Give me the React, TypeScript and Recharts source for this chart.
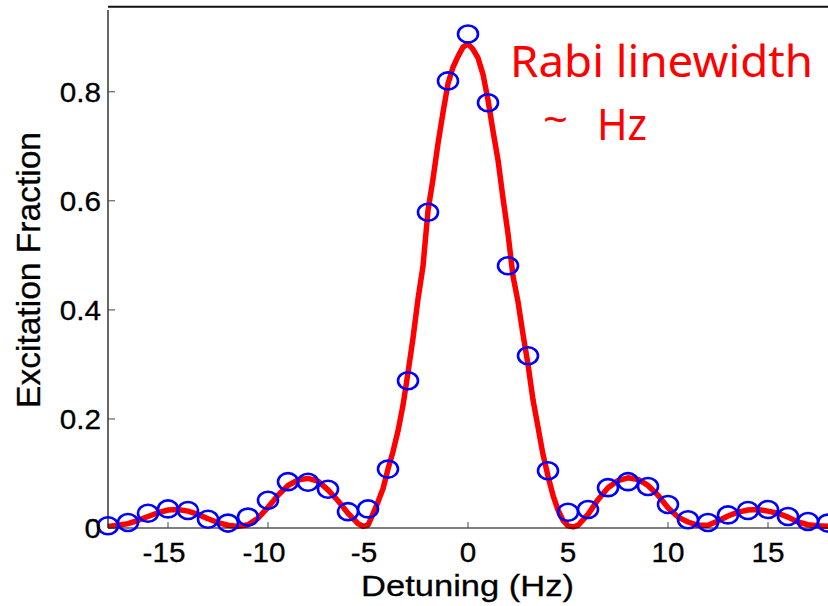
import React from "react";
import {
  ComposedChart,
  Line,
  Scatter,
  XAxis,
  YAxis,
  ReferenceLine,
  Customized,
} from "recharts";

// Measured excitation fraction at each detuning step (Hz)
const detuning = [
  -18, -17, -16, -15, -14, -13, -12, -11, -10, -9, -8, -7, -6, -5, -4, -3, -2, -1,
  0, 1, 2, 3, 4, 5, 6, 7, 8, 9, 10, 11, 12, 13, 14, 15, 16, 17, 18,
];
const excitation = [
  0.004, 0.01, 0.027, 0.035, 0.032, 0.016, 0.009, 0.02, 0.051, 0.085, 0.084, 0.071,
  0.03, 0.035, 0.108, 0.27, 0.579, 0.82, 0.906, 0.78, 0.481, 0.316, 0.105, 0.029,
  0.034, 0.074, 0.085, 0.076, 0.043, 0.015, 0.01, 0.024, 0.032, 0.034, 0.021, 0.012,
  0.009,
];

// Fitted Rabi lineshape, sampled along the detuning axis
const fitDetuning = [
  -18, -17.5, -17, -16.5, -16, -15.5, -15, -14.5, -14, -13.5, -13, -12.5, -12, -11.5,
  -11, -10.5, -10, -9.5, -9, -8.5, -8, -7.5, -7, -6.5, -6, -5.5, -5.25, -5, -4.75,
  -4.5, -4.25, -4, -3.75, -3.5, -3.25, -3, -2.75, -2.5, -2.25, -2, -1.75, -1.5, -1.25,
  -1, -0.75, -0.5, -0.25, 0, 0.25, 0.5, 0.75, 1, 1.25, 1.5, 1.75, 2, 2.25, 2.5, 2.75,
  3, 3.25, 3.5, 3.75, 4, 4.25, 4.5, 4.75, 5, 5.25, 5.5, 6, 6.5, 7, 7.5, 8, 8.5, 9, 9.5,
  10, 10.5, 11, 11.5, 12, 12.5, 13, 13.5, 14, 14.5, 15, 15.5, 16, 16.5, 17, 17.5, 18,
];
const fitExcitation = [
  0.003, 0.005, 0.008, 0.014, 0.021, 0.028, 0.033, 0.034, 0.031, 0.025, 0.017, 0.01,
  0.005, 0.003, 0.006, 0.018, 0.038, 0.06, 0.078, 0.088, 0.091, 0.086, 0.07, 0.05,
  0.027, 0.008, 0.003, 0.005, 0.026, 0.048, 0.072, 0.108, 0.14, 0.178, 0.225, 0.285,
  0.348, 0.42, 0.48, 0.582, 0.64, 0.705, 0.762, 0.815, 0.845, 0.865, 0.882, 0.888,
  0.878, 0.862, 0.832, 0.785, 0.728, 0.675, 0.605, 0.54, 0.462, 0.415, 0.355, 0.3,
  0.235, 0.185, 0.135, 0.095, 0.06, 0.033, 0.014, 0.004, 0.002, 0.005, 0.025, 0.052,
  0.074, 0.087, 0.092, 0.089, 0.078, 0.06, 0.037, 0.02, 0.011, 0.005, 0.005, 0.013,
  0.022, 0.029, 0.033, 0.034, 0.031, 0.027, 0.02, 0.011, 0.006, 0.004, 0.003,
];

const xTicks = [-15, -10, -5, 0, 5, 10, 15];
const yTicks = [0, 0.2, 0.4, 0.6, 0.8];

const xLabel = "Detuning (Hz)";
const yLabel = "Excitation Fraction";
const noteLine1 = "Rabi linewidth";
const noteTilde = "~";
const noteUnit = "Hz";

const points = detuning.map((x, i) => ({ x, v: excitation[i] }));
const curve = fitDetuning.map((x, i) => ({ x, v: fitExcitation[i] }));

const AXIS_FONT = "'Liberation Sans', Arial, Helvetica, sans-serif";
const NOTE_FONT = "'Noto Sans', 'Open Sans', sans-serif";
const STRETCH = 1.1;

const fmtY = (v: number) => (v === 0 ? "0" : v.toFixed(1));

// Bottom axis tick: short inward mark plus the label below the axis
const XTick = (props: any) => {
  const { x, y, payload } = props;
  const v = payload.value as number;
  const shift = v < 0 ? -4 : 0;
  return (
    <g>
      <line x1={x} y1={y} x2={x} y2={y - 6} stroke="#444" strokeWidth={1} />
      <text
        transform={`translate(${x + shift},${y + 34}) scale(${STRETCH},1)`}
        textAnchor="middle"
        fontFamily={AXIS_FONT}
        fontSize={27}
        stroke="#000"
        strokeWidth={0.3}
        fill="#000"
      >
        {String(v)}
      </text>
    </g>
  );
};

// Left axis tick: inward mark plus right-aligned label
const YTick = (props: any) => {
  const { x, y, payload } = props;
  return (
    <g>
      <line x1={x} y1={y} x2={x + 7} y2={y} stroke="#444" strokeWidth={1} />
      <text
        transform={`translate(${x - 7},${y + 10}) scale(${STRETCH},1)`}
        textAnchor="end"
        fontFamily={AXIS_FONT}
        fontSize={27}
        stroke="#000"
        strokeWidth={0.3}
        fill="#000"
      >
        {fmtY(payload.value)}
      </text>
    </g>
  );
};

const Marker = (props: any) => {
  const { cx, cy } = props;
  if (cx == null || cy == null) return null;
  return (
    <ellipse
      cx={cx}
      cy={cy}
      rx={10}
      ry={8.5}
      fill="none"
      stroke="#0000ff"
      strokeWidth={2.6}
    />
  );
};

const Annotations = () => (
  <g>
    <text
      x={40}
      y={270}
      transform="rotate(-90 40 270)"
      textAnchor="middle"
      fontFamily={AXIS_FONT}
      fontSize={34}
      textLength={276}
      lengthAdjust="spacingAndGlyphs"
      stroke="#000"
      strokeWidth={0.3}
      fill="#000"
    >
      {yLabel}
    </text>
    <text
      x={361}
      y={596}
      fontFamily={AXIS_FONT}
      fontSize={30}
      textLength={213}
      lengthAdjust="spacingAndGlyphs"
      stroke="#000"
      strokeWidth={0.3}
      fill="#000"
    >
      {xLabel}
    </text>
    <text
      x={510}
      y={77}
      fontFamily={NOTE_FONT}
      fontSize={44}
      textLength={303}
      lengthAdjust="spacingAndGlyphs"
      fill="#ff0000"
    >
      {noteLine1}
    </text>
    <text
      x={543}
      y={134}
      fontFamily={NOTE_FONT}
      fontSize={40}
      textLength={25}
      lengthAdjust="spacingAndGlyphs"
      fill="#ff0000"
    >
      {noteTilde}
    </text>
    <text
      x={597}
      y={140}
      fontFamily={NOTE_FONT}
      fontSize={44}
      textLength={50}
      lengthAdjust="spacingAndGlyphs"
      fill="#ff0000"
    >
      {noteUnit}
    </text>
  </g>
);

export default function App() {
  return (
    <div
      style={{
        position: "absolute",
        left: 0,
        top: 0,
        width: 828,
        height: 606,
        overflow: "hidden",
        background: "#fff",
      }}
    >
      <ComposedChart
        width={828}
        height={606}
        margin={{ top: 10, right: 0, bottom: 0, left: 0 }}
      >
        <XAxis
          type="number"
          dataKey="x"
          domain={[-18, 18]}
          ticks={xTicks}
          height={78}
          tickSize={0}
          tickMargin={0}
          tickLine={false}
          axisLine={{ stroke: "#000", strokeWidth: 1.2 }}
          tick={<XTick />}
          interval={0}
        />
        <YAxis
          type="number"
          dataKey="v"
          domain={[0, 0.95]}
          ticks={yTicks}
          width={108}
          tickSize={0}
          tickMargin={0}
          tickLine={false}
          axisLine={{ stroke: "#000", strokeWidth: 1.2 }}
          tick={<YTick />}
          interval={0}
        />
        <ReferenceLine
          y={0.956}
          ifOverflow="visible"
          stroke="#111"
          strokeWidth={2.2}
        />
        <Line
          data={curve}
          dataKey="v"
          type="linear"
          stroke="#ff0000"
          strokeWidth={5.5}
          strokeLinejoin="round"
          dot={false}
          activeDot={false}
          isAnimationActive={false}
        />
        <Scatter
          data={points}
          dataKey="v"
          shape={<Marker />}
          isAnimationActive={false}
        />
        <Customized component={Annotations} />
      </ComposedChart>
    </div>
  );
}
